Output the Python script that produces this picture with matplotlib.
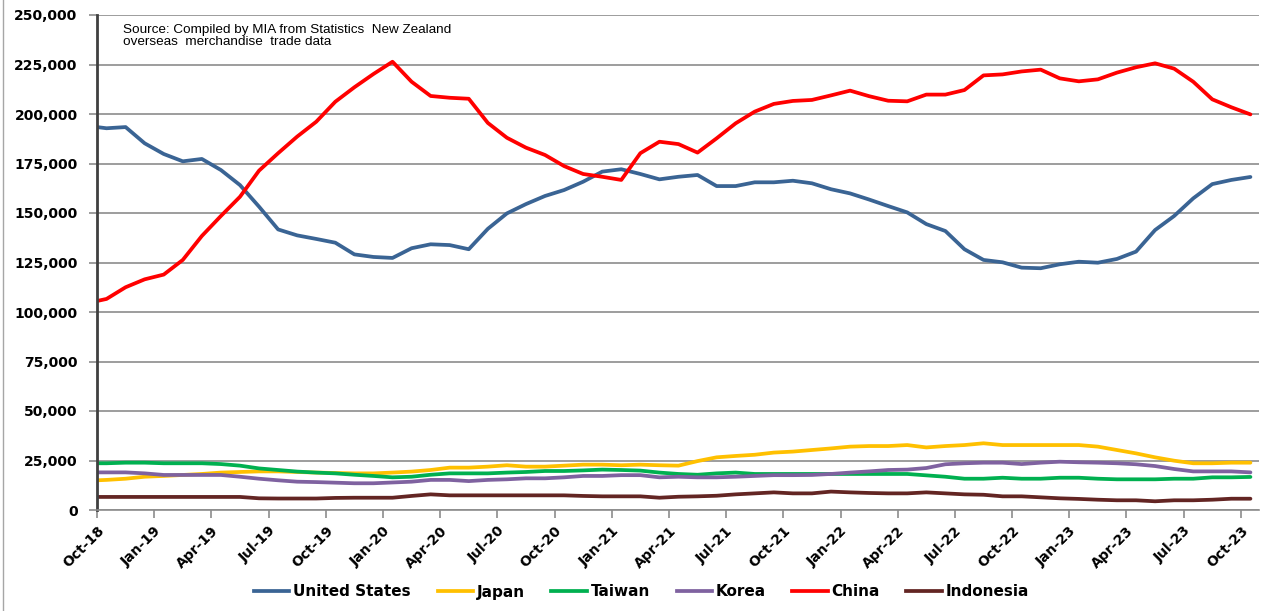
import matplotlib
matplotlib.use("Agg")
import matplotlib.pyplot as plt
from matplotlib.lines import Line2D
import numpy as np
import pandas as pd

# Monthly series, Sep-18 .. Oct-23 (Sep-18 sits just left of the axis and is clipped)
months = pd.date_range("2018-09-01", "2023-10-01", freq="MS")

united_states = [194000,
    192800, 193400, 185200, 179800, 176100, 177300, 171700, 164100, 153200, 141700,
    138700, 136900, 135000, 129100, 127800, 127300, 132200, 134200, 133800, 131700,
    142000, 149800, 154500, 158600, 161600, 165800, 170900, 172100, 169700, 167000,
    168300, 169200, 163600, 163600, 165500, 165500, 166300, 165000, 162000, 159900,
    156800, 153500, 150300, 144400, 140900, 131700, 126300, 125100, 122400, 122100,
    124100, 125400, 124900, 126800, 130500, 141400, 148500, 157400, 164600, 166700,
    168200]
japan = [14800,
    15200, 15800, 16800, 17200, 17700, 18200, 18900, 19200, 19500, 19500,
    19200, 18900, 18700, 18500, 18500, 18900, 19400, 20200, 21400, 21400,
    21900, 22600, 21900, 21900, 22400, 22900, 22900, 22600, 22900, 22600,
    22400, 24700, 26600, 27300, 27900, 29000, 29500, 30300, 31100, 32000,
    32300, 32300, 32800, 31600, 32300, 32800, 33700, 32800, 32800, 32800,
    32800, 32800, 32000, 30300, 28600, 26600, 24900, 23600, 23600, 23900,
    23900]
taiwan = [23600,
    23600, 23900, 23900, 23600, 23600, 23600, 23200, 22400, 21000, 20200,
    19400, 18900, 18500, 17800, 17200, 16500, 16800, 17800, 18500, 18500,
    18500, 18900, 19200, 19700, 19700, 20000, 20400, 20200, 19900, 18900,
    18200, 17800, 18500, 18900, 18200, 18200, 18200, 18200, 18200, 18200,
    18200, 18200, 18200, 17500, 16800, 15800, 15800, 16300, 15800, 15800,
    16300, 16300, 15800, 15500, 15500, 15500, 15800, 15800, 16500, 16500,
    16700]
korea = [19000,
    19000, 19000, 18500, 17700, 17700, 17700, 17700, 16800, 15800, 15000,
    14300, 14100, 13800, 13500, 13500, 13900, 14300, 15200, 15200, 14600,
    15200, 15500, 16000, 16000, 16500, 17200, 17200, 17600, 17600, 16500,
    16800, 16500, 16500, 16800, 17200, 17600, 17600, 17700, 18200, 18900,
    19500, 20200, 20400, 21200, 23100, 23600, 23900, 23900, 23200, 23900,
    24400, 24100, 23900, 23600, 23100, 22200, 20700, 19500, 19500, 19500,
    19000]
china = [104500,
    106600, 112500, 116500, 118900, 126300, 138400, 148500, 158200, 171400, 180200,
    188600, 196100, 206200, 213500, 220200, 226400, 216300, 209100, 208200, 207700,
    195500, 188000, 183000, 179300, 173700, 169700, 168300, 166700, 180200, 186000,
    184800, 180500, 187700, 195300, 201200, 205100, 206600, 207100, 209400, 211800,
    209000, 206700, 206400, 209800, 209800, 212100, 219500, 220000, 221500, 222400,
    218000, 216500, 217500, 220900, 223600, 225600, 222900, 216300, 207400, 203400,
    199800]
indonesia = [6600,
    6600, 6600, 6600, 6600, 6600, 6600, 6600, 6600, 5900, 5800,
    5800, 5800, 6100, 6200, 6200, 6200, 7100, 7900, 7400, 7400,
    7400, 7400, 7400, 7400, 7400, 7100, 6900, 6900, 6900, 6200,
    6700, 6900, 7200, 7900, 8400, 8900, 8400, 8400, 9300, 8900,
    8600, 8400, 8400, 8900, 8400, 7900, 7700, 6900, 6900, 6400,
    5900, 5600, 5200, 4900, 4900, 4400, 4900, 4900, 5200, 5700,
    5700]

series_names = ["United States", "Japan", "Taiwan", "Korea", "China", "Indonesia"]
series_values = [united_states, japan, taiwan, korea, china, indonesia]
series_colors = ["#3A6494", "#FFC000", "#00B050", "#7F62A0", "#FF0000", "#632523"]

# x position in months measured from 1 Oct 2018; points sit mid-month
x = np.arange(len(months)) - 1 + 0.5
tick_pos = np.arange(0, 61, 3)
tick_labels = [months[1 + int(p)].strftime("%b-%y") for p in tick_pos]

fig = plt.figure(figsize=(12.78, 6.11), dpi=100)
ax = fig.add_axes([97 / 1278, 1 - 510 / 611, (1259 - 97) / 1278, (510 - 15) / 611])

for name, vals, col in zip(series_names, series_values, series_colors):
    ax.plot(x, vals, color=col, lw=2.7, label=name, solid_joinstyle="round",
            solid_capstyle="round")

ax.set_xlim(0, 60.95)
ax.set_ylim(0, 250000)
ax.set_yticks(np.arange(0, 250001, 25000))
ax.set_yticklabels([f"{v:,}" for v in range(0, 250001, 25000)],
                   fontsize=10, fontweight="bold", family="DejaVu Sans")
ax.set_xticks(tick_pos)
ax.set_xticklabels(tick_labels, rotation=45, ha="right", rotation_mode="anchor",
                   fontsize=10, fontweight="bold", family="DejaVu Sans")

ax.grid(axis="y", color="#8c8c8c", lw=1.2)
ax.set_axisbelow(True)
for side in ("top", "right"):
    ax.spines[side].set_visible(False)
ax.spines["left"].set_color("#404040")
ax.spines["left"].set_linewidth(2)
ax.spines["bottom"].set_color("#8c8c8c")
ax.spines["bottom"].set_linewidth(1.2)
ax.tick_params(axis="y", length=6, width=1.2, color="#8c8c8c", pad=8)
ax.tick_params(axis="x", length=6, width=1.2, color="#8c8c8c", pad=4)

ax.text(123 / 1278, 1 - 24 / 611,
        "Source: Compiled by MIA from Statistics  New Zealand\noverseas  merchandise  trade data",
        transform=fig.transFigure, fontsize=9.7, family="Liberation Sans",
        va="top", ha="left", linespacing=1.0)

fig.legend(handles=[Line2D([], [], color=c, lw=2.7) for c in series_colors],
           labels=series_names, loc="center", bbox_to_anchor=(0.502, 1 - 592 / 611),
           ncol=6, frameon=False, handlelength=2.3, handletextpad=0.25,
           columnspacing=1.75, prop={"family": "DejaVu Sans", "weight": "bold", "size": 11})

fig.add_artist(Line2D([3 / 1278, 3 / 1278], [0, 1], transform=fig.transFigure,
                      color="#a6a6a6", lw=1))

fig.savefig("out.png", dpi=100)
